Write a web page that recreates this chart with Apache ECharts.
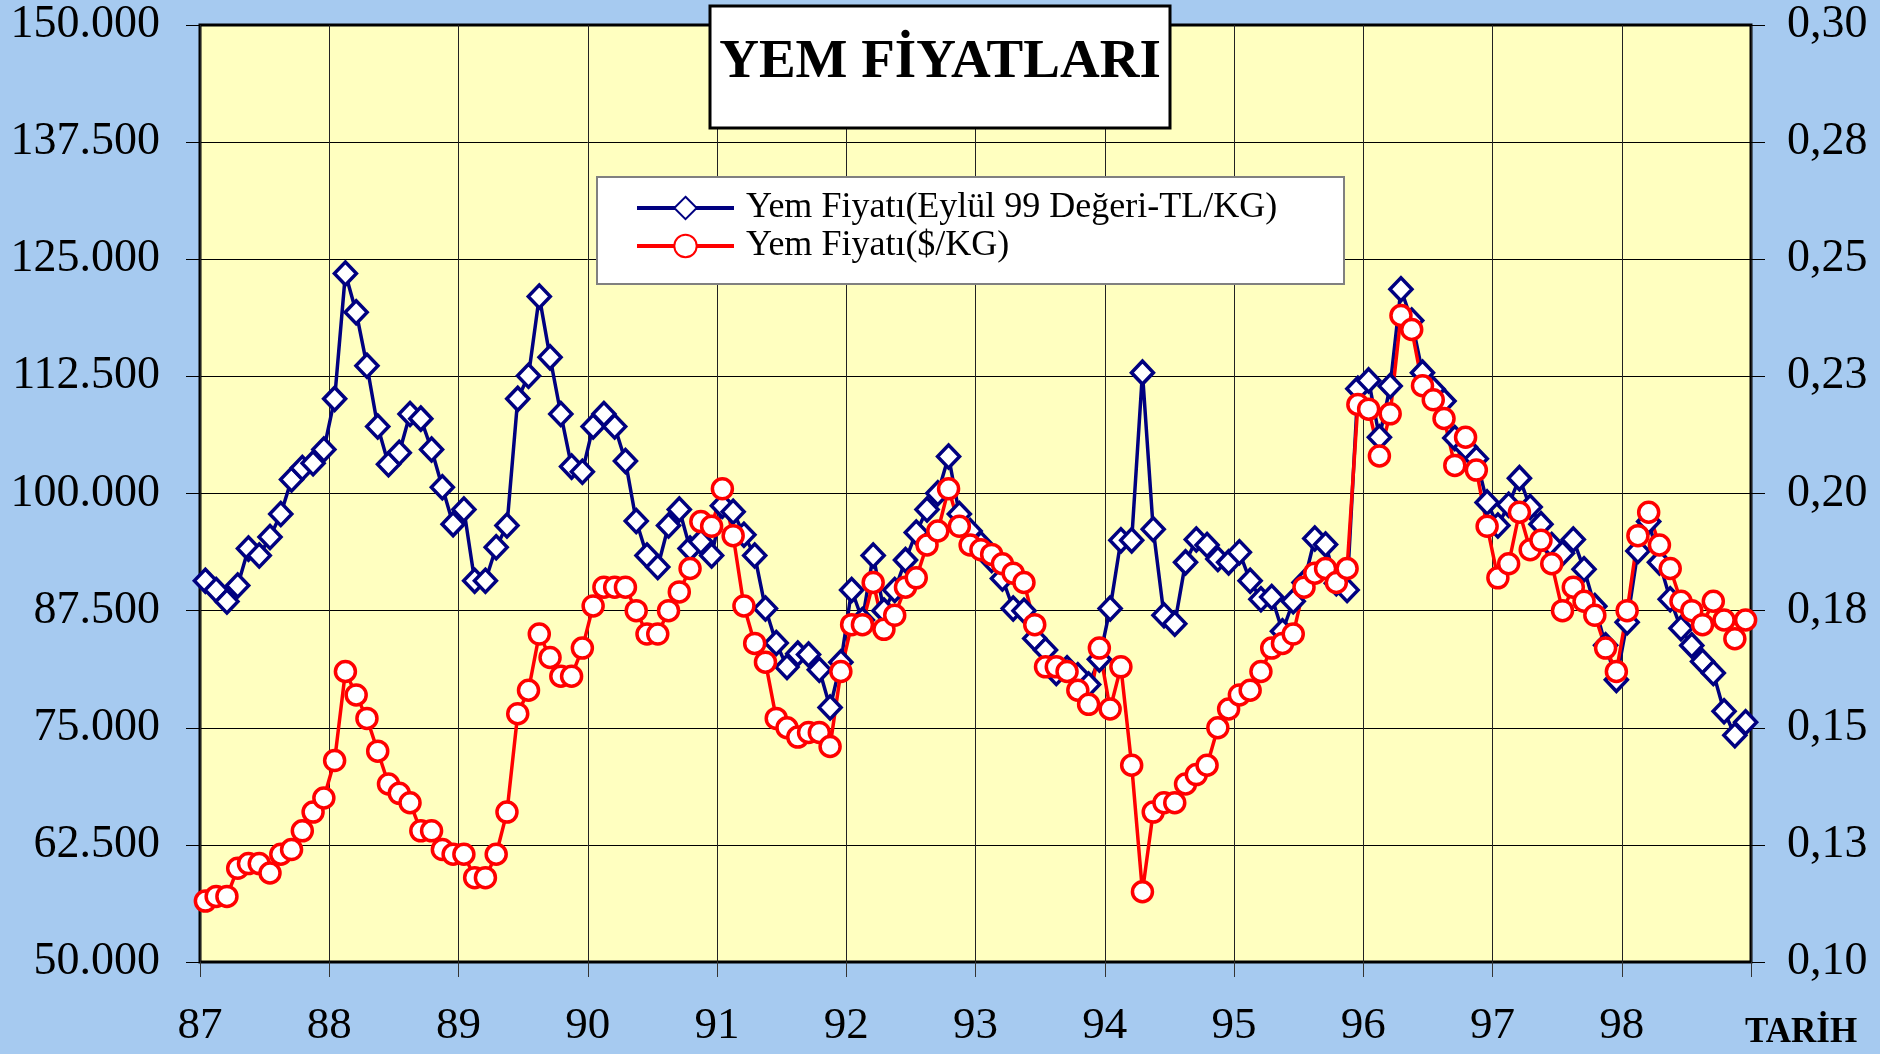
<!DOCTYPE html>
<html>
<head>
<meta charset="utf-8">
<title>Yem Fiyatları</title>
<script src="https://cdn.jsdelivr.net/npm/echarts@6/dist/echarts.min.js"></script>
<style>
  html, body { margin: 0; padding: 0; background: #A6CAF0; }
  #main { width: 1880px; height: 1054px; }
</style>
</head>
<body>
<div id="main"></div>
<script>
// yıllar (x ekseni etiketleri, her yılın başında)
var years = ['87', '88', '89', '90', '91', '92', '93', '94', '95', '96', '97', '98'];

// Yem fiyatı, Eylül 99 değeri TL/KG (aylık, Ocak 87 - Aralık 98)
var yemTL = [
  90680, 89700, 88470, 90190, 94120, 93380, 95350, 97810, 101500, 102730, 103220, 104700,
  110100, 123480, 119350, 113640, 107150, 103120, 104350, 108480, 107990, 104700, 100660, 96730,
  98300, 90680, 90680, 94270, 96580, 110100, 112560, 121020, 114530, 108480, 102870, 102330,
  107150, 108480, 107150, 103460, 97070, 93380, 92150, 96580, 98300, 94120, 94860, 93380,
  98700, 98050, 95600, 93380, 87730, 84040, 81480, 82910, 82810, 81190, 77160, 82000,
  89700, 86500, 93380, 87500, 89700, 92890, 95840, 98300, 100020, 103950, 97810, 96000,
  94600, 92900, 90930, 87730, 87490, 84530, 83300, 80850, 81340, 80600, 79620, 82300,
  87730, 95000, 95000, 112900, 96180, 87000, 86110, 92650, 95100, 94500, 93000, 92650,
  93730, 90680, 88710, 88960, 85300, 88500, 90500, 95200, 94560, 90430, 89700, 111180,
  112070, 106000, 111470, 121800, 118460, 112900, 111130, 109860, 105920, 104940, 103710, 99050,
  96580, 98790, 101640, 98550, 96730, 94500, 93630, 95100, 91910, 87980, 83800, 80110,
  86250, 93870, 97000, 92650, 88710, 85610, 83790, 82070, 80840, 76760, 74200, 75590
];

// Yem fiyatı $/KG
var yemUSD = [
  0.113, 0.114, 0.114, 0.120, 0.121, 0.121, 0.119, 0.123, 0.124, 0.128, 0.132, 0.135,
  0.143, 0.162, 0.157, 0.152, 0.145, 0.138, 0.136, 0.134, 0.128, 0.128, 0.124, 0.123,
  0.123, 0.118, 0.118, 0.123, 0.132, 0.153, 0.158, 0.170, 0.165, 0.161, 0.161, 0.167,
  0.176, 0.180, 0.180, 0.180, 0.175, 0.170, 0.170, 0.175, 0.179, 0.184, 0.194, 0.193,
  0.201, 0.191, 0.176, 0.168, 0.164, 0.152, 0.150, 0.148, 0.149, 0.149, 0.146, 0.162,
  0.172, 0.172, 0.181, 0.171, 0.174, 0.180, 0.182, 0.189, 0.192, 0.201, 0.193, 0.189,
  0.188, 0.187, 0.185, 0.183, 0.181, 0.172, 0.163, 0.163, 0.162, 0.158, 0.155, 0.167,
  0.154, 0.163, 0.142, 0.115, 0.132, 0.134, 0.134, 0.138, 0.140, 0.142, 0.150, 0.154,
  0.157, 0.158, 0.162, 0.167, 0.168, 0.170, 0.180, 0.183, 0.184, 0.181, 0.184, 0.219,
  0.218, 0.208, 0.217, 0.238, 0.235, 0.223, 0.220, 0.216, 0.206, 0.212, 0.205, 0.193,
  0.182, 0.185, 0.196, 0.188, 0.190, 0.185, 0.175, 0.180, 0.177, 0.174, 0.167, 0.162,
  0.175, 0.191, 0.196, 0.189, 0.184, 0.177, 0.175, 0.172, 0.177, 0.173, 0.169, 0.173
];

var serif = "'Liberation Serif', 'Times New Roman', serif";

// aylar kategorinin ortasina oturur
function toPoints(arr) {
  return arr.map(function (v, i) { return [i + 0.5, v]; });
}

function tlFormat(v) {
  var k = Math.floor(v / 1000);
  var r = Math.round(v % 1000);
  return k + '.' + String(r).padStart(3, '0');
}

function usdFormat(v) {
  return (Math.round(v * 100 + 1e-6) / 100).toFixed(2).replace('.', ',');
}

var myChart = echarts.init(document.getElementById('main'));

var option = {
  animation: false,
  backgroundColor: '#A6CAF0',
  grid: {
    left: 200, right: 129, top: 25, bottom: 92,
    show: true,
    backgroundColor: '#FFFFC0',
    borderColor: '#000',
    borderWidth: 3
  },
  legend: {
    orient: 'vertical',
    left: 635,
    top: 189,
    padding: 0,
    itemGap: 0,
    itemWidth: 97,
    itemHeight: 28,
    z: 10,
    lineStyle: { width: 4 },
    textStyle: {
      fontFamily: serif,
      fontSize: 36,
      lineHeight: 38,
      color: '#000',
      padding: [0, 0, 0, 7]
    },
    data: ['Yem Fiyatı(Eylül 99 Değeri-TL/KG)', 'Yem Fiyatı($/KG)']
  },
  xAxis: {
    type: 'value',
    min: 0,
    max: 144,
    interval: 12,
    axisLine: { show: false },
    axisTick: { show: true, length: 15, lineStyle: { color: '#333', width: 1 } },
    axisLabel: {
      margin: 42,
      fontFamily: serif,
      fontSize: 45,
      color: '#000',
      formatter: function (v) { return years[v / 12] || ''; }
    },
    splitLine: { show: true, lineStyle: { color: '#222', width: 1 } }
  },
  yAxis: [
    {
      type: 'value',
      min: 50000,
      max: 150000,
      interval: 12500,
      axisLine: { show: false },
      axisTick: { show: true, length: 14, lineStyle: { color: '#000' } },
      axisLabel: {
        margin: 40,
        fontFamily: serif,
        fontSize: 46,
        color: '#000',
        formatter: tlFormat
      },
      splitLine: { show: true, lineStyle: { color: '#000', width: 1 } }
    },
    {
      type: 'value',
      min: 0.1,
      max: 0.3,
      interval: 0.025,
      position: 'right',
      axisLine: { show: false },
      axisTick: { show: true, length: 14, lineStyle: { color: '#000' } },
      axisLabel: {
        margin: 36,
        fontFamily: serif,
        fontSize: 46,
        color: '#000',
        formatter: usdFormat
      },
      splitLine: { show: false }
    }
  ],
  series: [
    {
      name: 'Yem Fiyatı(Eylül 99 Değeri-TL/KG)',
      type: 'line',
      yAxisIndex: 0,
      data: toPoints(yemTL),
      symbol: 'diamond',
      symbolSize: [22, 23],
      lineStyle: { color: '#000080', width: 3.5 },
      itemStyle: { color: '#fff', borderColor: '#000080', borderWidth: 3.5 }
    },
    {
      name: 'Yem Fiyatı($/KG)',
      type: 'line',
      yAxisIndex: 1,
      data: toPoints(yemUSD),
      symbol: 'circle',
      symbolSize: 20,
      lineStyle: { color: '#FF0000', width: 3.5 },
      itemStyle: { color: '#fff', borderColor: '#FF0000', borderWidth: 3.5 }
    }
  ],
  graphic: [
    {
      type: 'rect',
      z: 3,
      shape: { x: 597, y: 177, width: 747, height: 107 },
      style: { fill: '#fff', stroke: '#808080', lineWidth: 2 }
    },
    {
      type: 'rect',
      z: 20,
      shape: { x: 710, y: 6, width: 460, height: 122 },
      style: { fill: '#fff', stroke: '#000', lineWidth: 3 }
    },
    {
      type: 'text',
      z: 21,
      x: 940,
      y: 63,
      style: {
        text: 'YEM FİYATLARI',
        font: 'bold 55px ' + serif,
        fill: '#000',
        textAlign: 'center',
        textVerticalAlign: 'middle'
      }
    },
    {
      type: 'text',
      z: 21,
      x: 1745,
      y: 1033,
      style: {
        text: 'TARİH',
        font: 'bold 35px ' + serif,
        fill: '#000',
        textAlign: 'left',
        textVerticalAlign: 'middle'
      }
    }
  ]
};

myChart.setOption(option);
</script>
</body>
</html>
